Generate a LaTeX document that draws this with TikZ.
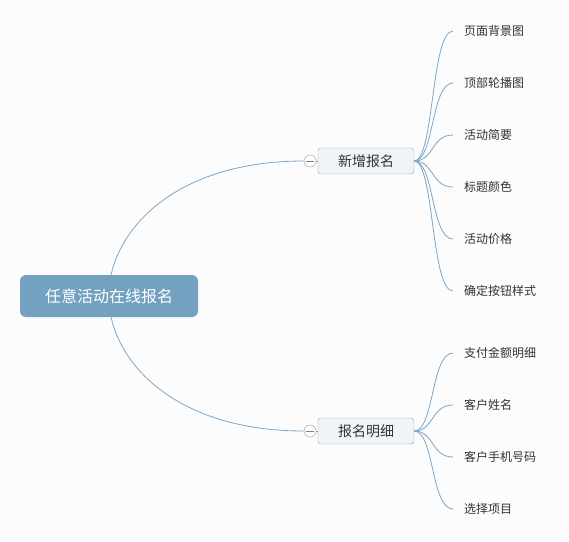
\documentclass[tikz,border=0pt]{standalone}
\usepackage{fontspec}
\setmainfont{Noto Sans CJK SC}
\definecolor{linkblue}{HTML}{7BA6C7}
\definecolor{rootblue}{HTML}{73A2C0}
\definecolor{boxfill}{HTML}{EFF4F8}
\definecolor{bggray}{HTML}{FCFCFC}
\definecolor{textgray}{HTML}{333333}
\begin{document}
\begin{tikzpicture}[x=1pt,y=-1pt,
  rootbox/.style={fill=rootblue, rounded corners=6pt, minimum width=178pt, minimum height=42pt, text=white, font=\fontsize{16}{19}\selectfont},
  topicbox/.style={draw=linkblue, fill=boxfill, rounded corners=3pt, minimum width=96pt, minimum height=26pt, text=textgray, font=\fontsize{14}{17}\selectfont},
  foldmark/.style={draw=gray!80, fill=white, circle, minimum size=12pt, inner sep=0pt},
  leafnode/.style={anchor=west, inner xsep=11pt, text=textgray, font=\fontsize{12}{15}\selectfont},
  link/.style={draw=linkblue, line width=0.8pt}]
\fill[bggray] (0,0) rectangle (569,541);
\useasboundingbox (0,0) rectangle (569,541);
\node[rootbox] (root) at (109,296) {任意活动在线报名};
\node[topicbox] (add) at (366,161) {新增报名};
\node[topicbox] (detail) at (366,431) {报名明细};
\node[foldmark] (c1) at (310,161) {};
\node[foldmark] (c2) at (310,431) {};
\draw[gray] ([xshift=2.5pt]c1.west) -- ([xshift=-2.5pt]c1.east);
\draw[gray] ([xshift=2.5pt]c2.west) -- ([xshift=-2.5pt]c2.east);
% main branches
\draw[link] ([xshift=2pt]root.north) .. controls (125,215) and (190,161) .. (c1.west);
\draw[link] ([xshift=2pt]root.south) .. controls (125,377) and (190,431) .. (c2.west);
\draw[link] (c1.east) -- (add.west);
\draw[link] (c2.east) -- (detail.west);
% leaves
\node[leafnode] (a1) at (453,31) {页面背景图};
\node[leafnode] (a2) at (453,83) {顶部轮播图};
\node[leafnode] (a3) at (453,135) {活动简要};
\node[leafnode] (a4) at (453,187) {标题颜色};
\node[leafnode] (a5) at (453,239) {活动价格};
\node[leafnode] (a6) at (453,291) {确定按钮样式};
\node[leafnode] (b1) at (453,353) {支付金额明细};
\node[leafnode] (b2) at (453,405) {客户姓名};
\node[leafnode] (b3) at (453,457) {客户手机号码};
\node[leafnode] (b4) at (453,509) {选择项目};
\foreach \leaf in {a1,a2,a3,a4,a5,a6}
  \draw[link] (add.east) .. controls +(20,0) and +(-22,0) .. (\leaf.west);
\foreach \leaf in {b1,b2,b3,b4}
  \draw[link] (detail.east) .. controls +(20,0) and +(-22,0) .. (\leaf.west);
\end{tikzpicture}
\end{document}
